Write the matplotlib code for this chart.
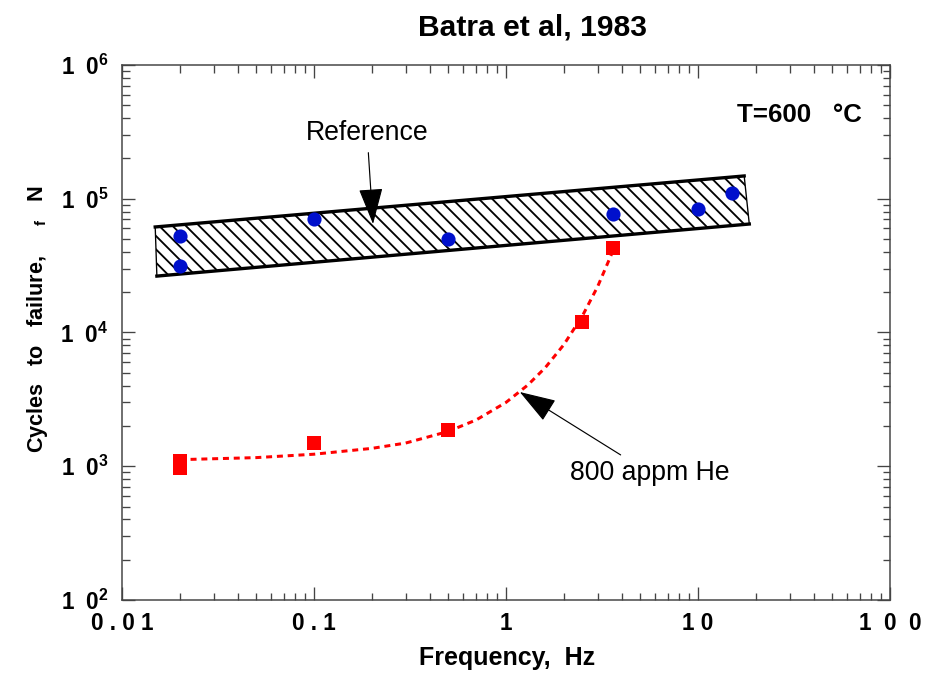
import numpy as np
import matplotlib
matplotlib.use("Agg")
import matplotlib.pyplot as plt
from matplotlib.patches import Polygon
from matplotlib.ticker import FixedLocator, LogLocator, NullFormatter

# --- data -------------------------------------------------------------
# unirradiated specimens (blue circles)
ref_freq = [0.02, 0.02, 0.1, 0.5, 3.6, 10.0, 15.0]
ref_cycles = [52500, 31400, 70000, 50000, 77000, 84000, 110000]

# 800 appm He specimens (red squares)
he_freq = [0.02, 0.02, 0.1, 0.5, 2.5, 3.6]
he_cycles = [1090, 970, 1490, 1870, 12000, 43000]

# trend line drawn through the He data
trend_freq = [0.02, 0.05, 0.1, 0.2, 0.3, 0.5, 0.7, 1.0, 1.3, 1.6, 2.0, 2.5, 3.0, 3.6]
trend_cycles = [1120, 1160, 1230, 1360, 1490, 1820, 2220, 3000, 4050,
                5450, 8100, 13300, 22000, 40500]

# reference scatter band corners (freq, cycles)
band_freq = [0.0149, 17.4, 18.5, 0.0152]
band_cycles = [61500, 148000, 64700, 26400]

xticks = [0.01, 0.1, 1, 10, 100]
xlabels = ["0 . 0 1", "0 . 1", "1", "1 0", "1  0  0"]
yticks = [1e2, 1e3, 1e4, 1e5, 1e6]
ylabels = [r"$\mathbf{1\;\;0^{%d}}$" % e for e in range(2, 7)]

# --- style ------------------------------------------------------------
plt.rcParams["font.family"] = ["Liberation Sans", "DejaVu Sans"]
plt.rcParams["mathtext.fontset"] = "custom"
plt.rcParams["mathtext.rm"] = "Liberation Sans"
plt.rcParams["mathtext.bf"] = "Liberation Sans:bold"
plt.rcParams["hatch.linewidth"] = 1.1

DPI = 120
fig = plt.figure(figsize=(944 / DPI, 674 / DPI), dpi=DPI)
ax = fig.add_axes([0.1292, 0.1098, 0.8136, 0.7938])
ax.set_xscale("log")
ax.set_yscale("log")
ax.set_xlim(0.01, 100)
ax.set_ylim(1e2, 1e6)

# hatched reference band
band = Polygon(list(zip(band_freq, band_cycles)), closed=True,
               facecolor="white", edgecolor="black", hatch="\\\\\\",
               linewidth=0.8, zorder=2)
ax.add_patch(band)
ax.plot(band_freq[:2], band_cycles[:2], color="black", lw=2.0, zorder=3)
ax.plot(band_freq[3:1:-1], band_cycles[3:1:-1], color="black", lw=2.0, zorder=3)

ax.plot(trend_freq, trend_cycles, color="#ff0000", lw=1.8,
        linestyle=(0, (2.0, 1.6)), zorder=3)

ax.plot(ref_freq, ref_cycles, "o", color="#0010cc", markersize=8.5,
        markeredgewidth=0, zorder=4)
ax.plot(he_freq, he_cycles, "s", color="#ff0000", markersize=8.5,
        markeredgewidth=0, zorder=4)

# annotations
arrow = dict(arrowstyle="-|>,head_length=1.2,head_width=0.4",
             color="black", lw=0.7, shrinkA=2, shrinkB=0)
ax.annotate("Reference", xy=(0.203, 64700), xytext=(0.189, 310000),
            fontsize=16, ha="center", va="center", arrowprops=arrow)
ax.annotate("800 appm He", xy=(1.18, 3590), xytext=(5.6, 890),
            fontsize=16, ha="center", va="center", arrowprops=arrow)
ax.text(0.9635, 0.9065, "T=600   °C", transform=ax.transAxes, ha="right",
        va="center", fontsize=15.5, fontweight="bold")

# axes, ticks and labels
ax.xaxis.set_major_locator(FixedLocator(xticks))
ax.set_xticklabels(xlabels)
ax.xaxis.set_minor_locator(LogLocator(base=10, subs=np.arange(2, 10)))
ax.xaxis.set_minor_formatter(NullFormatter())
ax.yaxis.set_major_locator(FixedLocator(yticks))
ax.set_yticklabels(ylabels)
ax.yaxis.set_minor_locator(LogLocator(base=10, subs=np.arange(2, 10)))
ax.yaxis.set_minor_formatter(NullFormatter())

ax.tick_params(which="both", direction="in", top=True, right=True,
               color="#444444", width=0.8)
ax.tick_params(which="major", length=8)
ax.tick_params(which="minor", length=4.5)
ax.tick_params(axis="x", which="major", labelsize=13.5, pad=7.5)
ax.tick_params(axis="y", which="major", labelsize=13.5, pad=8)
for lab in ax.get_xticklabels():
    lab.set_fontweight("bold")
for sp in ax.spines.values():
    sp.set_color("#444444")
    sp.set_linewidth(0.9)

fig.text(507 / 944, 1 - 658 / 674, "Frequency,  Hz", fontsize=15,
         fontweight="bold", ha="center", va="center")
fig.text(38 / 944, 1 - 319 / 674,
         r"Cycles   to   failure,     ${}_{\mathbf{f}}$   N",
         fontsize=13, fontweight="bold", rotation=90,
         ha="center", va="center")
fig.text(533 / 944, 1 - 27 / 674, "Batra et al, 1983", fontsize=18,
         fontweight="bold", ha="center", va="center")

fig.savefig("out.png", dpi=DPI, facecolor="white")
